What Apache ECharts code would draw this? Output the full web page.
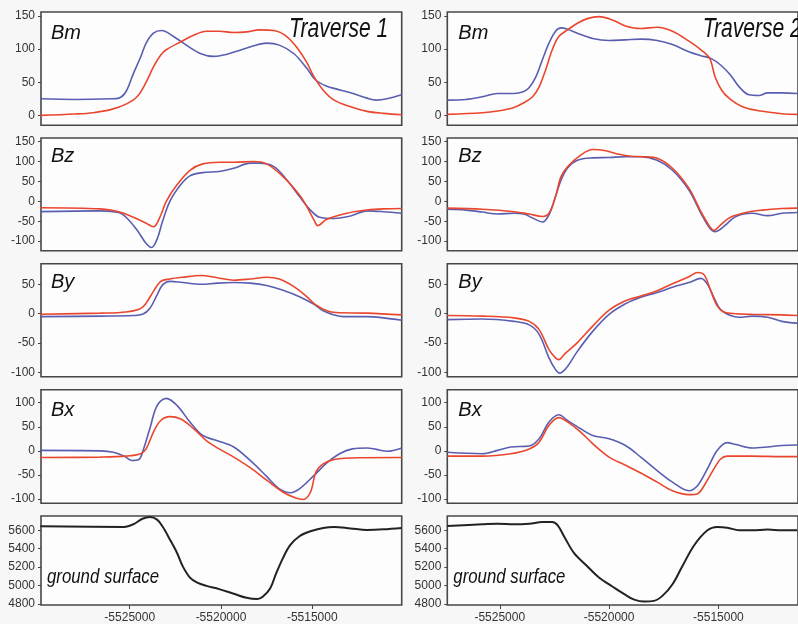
<!DOCTYPE html>
<html>
<head>
<meta charset="utf-8">
<script src="https://cdn.jsdelivr.net/npm/echarts@6/dist/echarts.min.js"></script>
<style>
  html, body { margin: 0; padding: 0; background: #f7f7f7; }
  #chart { width: 798px; height: 624px; }
</style>
</head>
<body>
<div id="chart"></div>
<script>
// ---- axis extents and tick values ----
const xRangeT1 = [-5529860, -5510100];
const xRangeT2 = [-5527400, -5511360];
const xTicks = [-5525000, -5520000, -5515000];

const bmRange = [-15, 156];
const bzRange = [-124, 159];
const byRange = [-107, 85];
const bxRange = [-109, 127];
const groundRange = [4787, 5755];

const bmTicks = [0, 50, 100, 150];
const bzTicks = [-100, -50, 0, 50, 100, 150];
const byTicks = [-100, -50, 0, 50];
const bxTicks = [-100, -50, 0, 50, 100];
const groundTicks = [4800, 5000, 5200, 5400, 5600];

const panelTitles = ['Bm', 'Bz', 'By', 'Bx'];
const traverseTitles = ['Traverse 1', 'Traverse 2'];
const groundTitle = 'ground surface';

// ---- Traverse 1 profiles: [easting, value] ----
const t1BmMeasured = [[-5529900,25],[-5528000,24],[-5526000,25],[-5525600,26],[-5525200,36],[-5524800,63],[-5524400,88],[-5524100,109],[-5523700,124],[-5523250,128],[-5522600,119],[-5521900,106],[-5521100,93],[-5520400,89],[-5519700,92],[-5519000,98],[-5518200,105],[-5517500,109],[-5516800,106],[-5516000,93],[-5515300,71],[-5514800,53],[-5514200,44],[-5513700,40],[-5512900,34],[-5512000,26],[-5511500,23],[-5510900,25],[-5510100,31]];
const t1BmModel = [[-5529900,0],[-5528000,2],[-5527000,4],[-5526000,9],[-5525200,17],[-5524600,28],[-5524100,50],[-5523700,73],[-5523300,91],[-5523000,99],[-5522200,111],[-5521500,121],[-5520800,127],[-5520100,127],[-5519300,125],[-5518600,126],[-5517900,129],[-5517100,128],[-5516400,119],[-5515800,101],[-5515300,80],[-5514900,58],[-5514400,38],[-5513800,23],[-5512900,13],[-5512000,6],[-5511100,3],[-5510100,1]];

const t1BzMeasured = [[-5529900,-26],[-5526600,-24],[-5525600,-28],[-5525200,-40],[-5524600,-72],[-5524100,-106],[-5523800,-116],[-5523500,-95],[-5523200,-50],[-5522800,0],[-5522200,42],[-5521700,64],[-5521000,72],[-5520100,75],[-5519300,83],[-5518400,96],[-5517900,96],[-5517100,87],[-5516400,54],[-5515700,12],[-5515100,-22],[-5514600,-40],[-5513800,-43],[-5512900,-37],[-5512000,-24],[-5511100,-26],[-5510100,-30]];
const t1BzModel = [[-5529900,-16],[-5526600,-19],[-5525600,-26],[-5524800,-40],[-5524100,-55],[-5523700,-64],[-5523300,-35],[-5523000,0],[-5522400,42],[-5521700,78],[-5521000,94],[-5520100,98],[-5519300,98],[-5518200,100],[-5517500,94],[-5516600,62],[-5515700,16],[-5515300,-13],[-5514900,-47],[-5514700,-61],[-5514200,-45],[-5513100,-30],[-5512000,-22],[-5511100,-19],[-5510100,-18]];

const t1ByMeasured = [[-5529900,-5],[-5526600,-4],[-5524800,-3],[-5524300,-1],[-5523900,9],[-5523500,32],[-5523200,49],[-5522800,55],[-5522100,53],[-5521100,50],[-5520200,52],[-5519300,53],[-5518400,52],[-5517500,48],[-5516600,40],[-5515700,29],[-5514900,16],[-5514400,5],[-5513800,-2],[-5513300,-5],[-5512000,-5],[-5511100,-7],[-5510100,-11]];
const t1ByModel = [[-5529900,-1],[-5526600,1],[-5525200,3],[-5524400,9],[-5524100,18],[-5523700,38],[-5523300,55],[-5522800,59],[-5522100,62],[-5521100,65],[-5520200,61],[-5519300,57],[-5518400,59],[-5517500,62],[-5516800,59],[-5516000,46],[-5515300,29],[-5514800,15],[-5514200,5],[-5513700,2],[-5512000,1],[-5510100,-2]];

const t1BxMeasured = [[-5529900,1],[-5526600,0],[-5525900,-3],[-5525300,-11],[-5524900,-20],[-5524500,-18],[-5524300,-3],[-5523900,46],[-5523500,94],[-5523000,109],[-5522400,94],[-5521700,60],[-5521000,32],[-5520200,21],[-5519300,8],[-5518400,-20],[-5517500,-53],[-5516800,-79],[-5516200,-87],[-5515700,-79],[-5514900,-51],[-5514200,-25],[-5513500,-6],[-5512800,4],[-5512000,6],[-5511500,3],[-5510900,-1],[-5510100,6]];
const t1BxModel = [[-5529900,-14],[-5526600,-13],[-5525200,-11],[-5524400,-6],[-5524100,4],[-5523700,39],[-5523300,63],[-5522800,71],[-5522200,66],[-5521500,46],[-5520800,21],[-5520100,4],[-5519300,-13],[-5518400,-35],[-5517500,-61],[-5516600,-86],[-5515900,-98],[-5515500,-101],[-5515100,-86],[-5514800,-44],[-5514400,-27],[-5513800,-18],[-5512900,-15],[-5510100,-14]];

const t1Ground = [[-5529900,5643],[-5525300,5636],[-5524800,5665],[-5524300,5725],[-5523900,5745],[-5523500,5716],[-5523200,5640],[-5522800,5500],[-5522400,5350],[-5522100,5210],[-5521700,5085],[-5521300,5030],[-5520800,4995],[-5520100,4960],[-5519300,4909],[-5518600,4865],[-5518000,4852],[-5517700,4880],[-5517300,4970],[-5517000,5120],[-5516600,5300],[-5516200,5440],[-5515700,5535],[-5515100,5589],[-5514400,5625],[-5513800,5636],[-5512900,5620],[-5512000,5604],[-5511100,5610],[-5510100,5625]];

// ---- Traverse 2 profiles ----
const t2BmMeasured = [[-5527400,23],[-5526550,24],[-5525800,28],[-5525100,33],[-5524350,33],[-5523900,36],[-5523650,42],[-5523350,58],[-5523050,84],[-5522750,109],[-5522450,127],[-5522200,132],[-5521900,130],[-5521450,124],[-5520750,116],[-5520000,113],[-5519250,114],[-5518550,115],[-5517800,113],[-5517100,107],[-5516350,96],[-5515800,90],[-5515350,86],[-5514900,76],[-5514450,61],[-5514050,43],[-5513600,31],[-5513150,30],[-5512750,34],[-5512100,34],[-5511400,33]];
const t2BmModel = [[-5527400,1.5],[-5525800,4],[-5525100,6.6],[-5524350,12],[-5523900,19],[-5523500,28],[-5523200,43],[-5522900,69],[-5522600,99],[-5522300,119],[-5521900,129],[-5521450,139],[-5521000,146],[-5520450,149],[-5519850,144],[-5519250,135],[-5518550,131],[-5517800,133],[-5517100,127],[-5516350,112],[-5515800,99],[-5515400,86],[-5515150,58],[-5514850,38],[-5514450,24],[-5513900,13],[-5513150,7],[-5512100,2.5],[-5511400,1.5]];

const t2BzMeasured = [[-5527400,-20],[-5526550,-22],[-5525800,-27],[-5525100,-32],[-5524350,-30],[-5523900,-32],[-5523500,-42],[-5523050,-52],[-5522750,-34],[-5522450,12],[-5522200,53],[-5521900,84],[-5521450,103],[-5520750,109],[-5520000,110],[-5519250,112],[-5518550,112],[-5517800,103],[-5517100,78],[-5516350,28],[-5515800,-30],[-5515400,-67],[-5515150,-76],[-5514750,-63],[-5514200,-38],[-5513450,-30],[-5512750,-36],[-5512100,-30],[-5511400,-28]];
const t2BzModel = [[-5527400,-17],[-5525800,-20],[-5524350,-26],[-5523650,-32],[-5523050,-38],[-5522750,-30],[-5522450,12],[-5522200,62],[-5521900,87],[-5521300,116],[-5520750,130],[-5520150,127],[-5519550,118],[-5519000,113],[-5518400,112],[-5517800,108],[-5517100,83],[-5516350,33],[-5515800,-26],[-5515400,-63],[-5515200,-73],[-5514900,-59],[-5514450,-40],[-5513750,-28],[-5513000,-22],[-5512100,-18],[-5511400,-17]];

const t2ByMeasured = [[-5527400,-10],[-5525800,-9],[-5524350,-13],[-5523650,-19],[-5523200,-35],[-5522750,-75],[-5522450,-95],[-5522250,-101],[-5521950,-92],[-5521450,-64],[-5520750,-30],[-5520000,-1],[-5519250,17],[-5518550,28],[-5517800,36],[-5517100,45],[-5516350,53],[-5515800,60],[-5515500,50],[-5515200,27],[-5514900,7],[-5514450,-3],[-5514050,-6],[-5513450,-4],[-5512750,-6],[-5512100,-13],[-5511400,-16]];
const t2ByModel = [[-5527400,-3],[-5525800,-4],[-5524350,-7],[-5523650,-13],[-5523200,-27],[-5522750,-61],[-5522450,-75],[-5522300,-78],[-5522050,-69],[-5521450,-49],[-5520750,-21],[-5520000,6],[-5519250,22],[-5518550,30],[-5517800,39],[-5517100,51],[-5516350,63],[-5515950,70],[-5515650,66],[-5515350,39],[-5515050,13],[-5514750,3],[-5514200,0],[-5513450,-1],[-5512100,-2],[-5511400,-3]];

const t2BxMeasured = [[-5527400,-3],[-5525800,-6],[-5525100,1],[-5524500,8],[-5523650,10],[-5523200,25],[-5522750,60],[-5522300,75],[-5521900,63],[-5521300,46],[-5520750,32],[-5520000,25],[-5519250,11],[-5518550,-13],[-5517800,-41],[-5517100,-65],[-5516350,-83],[-5515950,-72],[-5515500,-37],[-5515050,1],[-5514600,17],[-5514200,13],[-5513450,6],[-5512750,8],[-5512100,11],[-5511400,12]];
const t2BxModel = [[-5527400,-11],[-5525800,-11],[-5524500,-6],[-5523650,4],[-5523200,18],[-5522750,53],[-5522300,69],[-5521900,60],[-5521300,39],[-5520750,15],[-5520000,-13],[-5519250,-30],[-5518550,-46],[-5517800,-65],[-5517100,-83],[-5516350,-91],[-5515950,-89],[-5515650,-72],[-5515200,-37],[-5514900,-17],[-5514600,-11],[-5513450,-11],[-5512100,-12],[-5511400,-12]];

const t2Ground = [[-5527400,5646],[-5525800,5664],[-5525100,5671],[-5524350,5664],[-5523650,5671],[-5523050,5689],[-5522600,5689],[-5522350,5653],[-5522050,5529],[-5521600,5351],[-5521000,5209],[-5520450,5084],[-5519850,4988],[-5519250,4896],[-5518850,4846],[-5518400,4825],[-5517950,4832],[-5517550,4889],[-5517100,5013],[-5516650,5209],[-5516100,5440],[-5515500,5600],[-5515050,5636],[-5514600,5628],[-5514050,5600],[-5513450,5600],[-5512750,5607],[-5512100,5600],[-5511400,5600]];

// ---- layout ----
const columns = [
  { left: 41, width: 360.7, xRange: xRangeT1 },
  { left: 447.3, width: 368, xRange: xRangeT2 }
];
const rows = [
  { top: 12, height: 113.3, range: bmRange, ticks: bmTicks },
  { top: 138, height: 112.7, range: bzRange, ticks: bzTicks },
  { top: 263.7, height: 113, range: byRange, ticks: byTicks },
  { top: 389.7, height: 113.6, range: bxRange, ticks: bxTicks },
  { top: 516, height: 89.7, range: groundRange, ticks: groundTicks }
];

const BLUE = '#5a5eb0';
const RED = '#ea462d';
const BLACK = '#222222';
const FONT = '"Liberation Sans", Arial, Helvetica, sans-serif';

const grids = [], xAxes = [], yAxes = [], series = [], graphics = [];

columns.forEach((col, c) => {
  rows.forEach((row, r) => {
    const idx = c * rows.length + r;
    const bottomRow = r === rows.length - 1;
    grids.push({
      left: col.left, top: row.top, width: col.width, height: row.height,
      show: true, backgroundColor: '#fdfdfd', borderColor: '#474747', borderWidth: 1.6
    });
    xAxes.push({
      type: 'value', gridIndex: idx, min: col.xRange[0], max: col.xRange[1],
      splitLine: { show: false }, axisLine: { show: false },
      axisTick: { show: bottomRow, length: 4, customValues: xTicks, lineStyle: { color: '#444', width: 1 } },
      axisLabel: { show: bottomRow, customValues: xTicks, margin: 7, fontSize: 12, color: '#333',
                   fontFamily: FONT, formatter: v => String(v) }
    });
    yAxes.push({
      type: 'value', gridIndex: idx, min: row.range[0], max: row.range[1],
      splitLine: { show: false }, axisLine: { show: false },
      axisTick: { show: true, length: 3, customValues: row.ticks, lineStyle: { color: '#444', width: 1 } },
      axisLabel: { customValues: row.ticks, margin: 6, fontSize: 12, color: '#333', fontFamily: FONT,
                   formatter: v => String(v) }
    });
  });
});

function profile(idx, data, color, width) {
  series.push({
    type: 'line', xAxisIndex: idx, yAxisIndex: idx, data: data,
    showSymbol: false, smooth: 0.35, silent: true,
    lineStyle: { color: color, width: width }
  });
}

const t1 = [[t1BmMeasured, t1BmModel], [t1BzMeasured, t1BzModel], [t1ByMeasured, t1ByModel], [t1BxMeasured, t1BxModel]];
const t2 = [[t2BmMeasured, t2BmModel], [t2BzMeasured, t2BzModel], [t2ByMeasured, t2ByModel], [t2BxMeasured, t2BxModel]];
[t1, t2].forEach((set, c) => {
  set.forEach((pair, r) => {
    const idx = c * rows.length + r;
    profile(idx, pair[0], BLUE, 1.6);
    profile(idx, pair[1], RED, 1.6);
  });
});
profile(4, t1Ground, BLACK, 2);
profile(9, t2Ground, BLACK, 2);

// ---- panel captions ----
const titleOffsets = [21, 18.7, 18.5, 20.3];
columns.forEach((col, c) => {
  panelTitles.forEach((t, r) => {
    graphics.push({
      type: 'text', x: col.left + (c === 0 ? 10 : 11), y: rows[r].top + titleOffsets[r],
      style: { text: t, font: 'italic 20px ' + FONT, fill: '#111', verticalAlign: 'middle', align: 'left' },
      z: 100
    });
  });
  graphics.push({
    type: 'text', x: col.left + 6, y: rows[4].top + 61,
    scaleX: 0.84,
    style: { text: groundTitle, font: 'italic 20px ' + FONT, fill: '#111', verticalAlign: 'middle', align: 'left' },
    z: 100
  });
  graphics.push({
    type: 'text', x: col.left + col.width - 13.5, y: rows[0].top + 17,
    scaleX: 0.78,
    style: { text: traverseTitles[c], font: 'italic 27px ' + FONT, fill: '#111', verticalAlign: 'middle', align: 'right' },
    z: 100
  });
});

const chart = echarts.init(document.getElementById('chart'), null, { renderer: 'canvas' });
chart.setOption({
  animation: false,
  backgroundColor: '#f7f7f7',
  grid: grids,
  xAxis: xAxes,
  yAxis: yAxes,
  series: series,
  graphic: graphics
});
</script>
</body>
</html>
